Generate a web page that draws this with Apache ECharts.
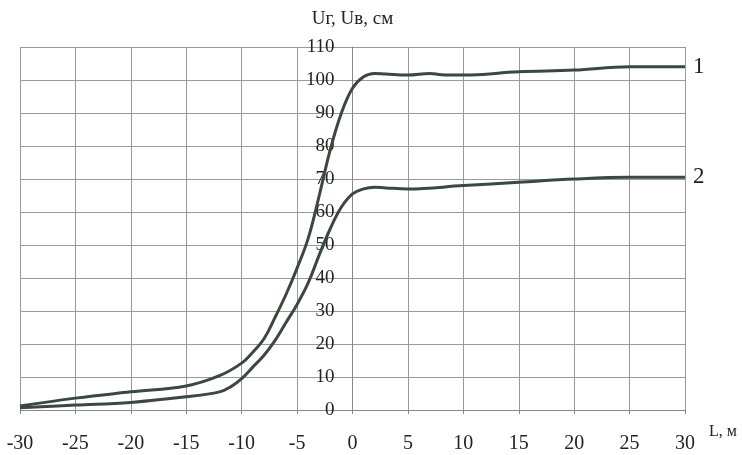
<!DOCTYPE html>
<html><head><meta charset="utf-8">
<script src="https://cdn.jsdelivr.net/npm/echarts@6/dist/echarts.min.js"></script>
<style>html,body{margin:0;padding:0;background:#fff}#c{width:742px;height:455px}</style>
</head><body><div id="c"></div>
<script>
var L1 = [-30,-25,-20,-15,-12,-10,-9,-8,-7,-6,-5,-4,-3,-2,-1,0,1,2,3,5,7,8,10,15,20,25,30];
var U1 = [1.2,3.6,5.5,7.3,10.4,14.2,17.5,21.5,28,35,43,52,65,79,90,97.5,101,102,101.8,101.5,102,101.6,101.5,102.5,103,104,104];
var L2 = [-30,-25,-20,-15,-12,-11,-10,-9,-8,-7,-6,-5,-4,-3,-2,-1,0,1,2,3,5,10,15,20,25,30];
var U2 = [0.7,1.5,2.3,4,5.5,7,9.5,13,16.5,21,26.5,32,38.5,47,55,61.5,65.5,67,67.5,67.3,67,68,69,70,70.5,70.5];
var xTicks = {min:-30, max:30, step:5};
var yTicks = {min:0, max:110, step:10};
var seriesNames = ['1','2'];
var xName = 'L, м', yName = 'Uг, Uв, см';

function pairs(xs, ys){ return xs.map(function(x,i){return [x, ys[i]];}); }
var font = 'Liberation Serif';
var lineColor = '#3b4840';
var gridLeft = 20, gridRight = 57, W = 742;
var plotW = W - gridLeft - gridRight;
// y axis drawn at L = 0
var yOffset = -plotW * (0 - xTicks.min) / (xTicks.max - xTicks.min);
var chart = echarts.init(document.getElementById('c'));
chart.setOption({
  animation:false,
  grid:{left:gridLeft, right:gridRight, top:47, bottom:45, containLabel:false},
  xAxis:{type:'value', min:xTicks.min, max:xTicks.max, interval:xTicks.step,
    name:xName, nameLocation:'end', nameGap:24,
    nameTextStyle:{fontFamily:font, fontSize:16, color:'#222', verticalAlign:'top', padding:[14,0,0,0]},
    axisLine:{show:true, lineStyle:{color:'#888', width:1}},
    axisTick:{show:true, length:4, lineStyle:{color:'#888'}},
    axisLabel:{fontFamily:font, fontSize:20, color:'#222', margin:24},
    splitLine:{show:true, lineStyle:{color:'#999', width:1}}},
  yAxis:{type:'value', min:yTicks.min, max:yTicks.max, interval:yTicks.step,
    position:'left', offset:yOffset,
    name:yName, nameLocation:'end', nameGap:18,
    nameTextStyle:{fontFamily:font, fontSize:19, color:'#222'},
    axisLine:{show:true, lineStyle:{color:'#888', width:1}},
    axisTick:{show:false},
    axisLabel:{fontFamily:font, fontSize:19, color:'#222', margin:18},
    splitLine:{show:true, lineStyle:{color:'#999', width:1}}},
  series:[
    {type:'line', name:seriesNames[0], data:pairs(L1,U1), smooth:0.4, symbol:'none',
     lineStyle:{color:lineColor, width:3},
     endLabel:{show:true, formatter:seriesNames[0], fontFamily:font, fontSize:23, color:'#222', distance:8}},
    {type:'line', name:seriesNames[1], data:pairs(L2,U2), smooth:0.4, symbol:'none',
     lineStyle:{color:lineColor, width:3},
     endLabel:{show:true, formatter:seriesNames[1], fontFamily:font, fontSize:23, color:'#222', distance:8}}
  ]
});
</script></body></html>
